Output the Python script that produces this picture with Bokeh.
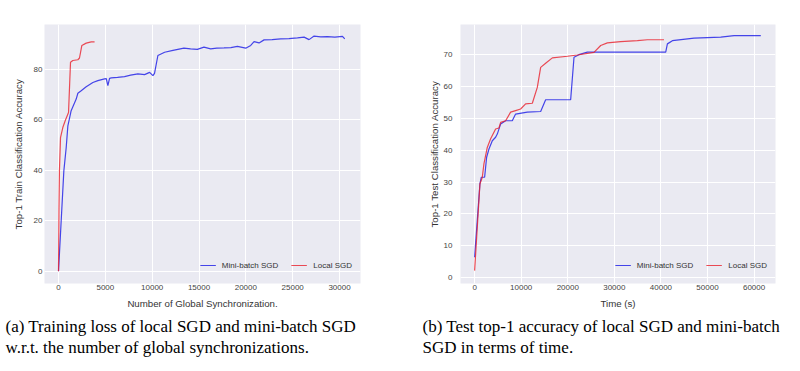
from bokeh.plotting import figure
from bokeh.layouts import row
from bokeh.models import Legend, LegendItem, Title, FixedTicker, Range1d
from bokeh.embed import file_html
from bokeh.resources import INLINE

# ---- data ----
train_mb_x = [0, 285, 570, 820, 1000, 1350, 1890, 2066, 2420, 2956, 3670, 4200, 4916, 5100, 5270,
              5450, 5630, 6300, 7050, 7700, 8475, 9190, 9725, 10080, 10250, 10610, 11330, 12220,
              13390, 14100, 14820, 15530, 16244, 16900, 17670, 18400, 19100, 19985, 20520, 20875,
              21410, 21945, 22800, 23725, 24600, 25510, 26220, 26750, 27285, 28000, 28710, 29500,
              30316, 30560]
train_mb_y = [0, 19.9, 39.8, 49.0, 57.7, 63.7, 68.3, 70.6, 71.6, 73.2, 74.9, 75.6, 76.3, 76.4, 73.6,
              76.5, 76.7, 76.9, 77.2, 77.8, 78.3, 78.0, 78.9, 77.6, 78.5, 85.6, 86.9, 87.6,
              88.5, 88.2, 88.0, 88.9, 88.2, 88.5, 88.6, 88.7, 89.2, 88.5, 89.6, 91.1,
              90.6, 91.8, 91.9, 92.2, 92.3, 92.6, 92.9, 91.9, 93.3, 93.0, 93.1, 92.9,
              93.2, 92.2]
train_local_x = [0, 50, 100, 214, 460, 714, 930, 1070, 1282, 1530, 2066, 2240, 2494, 2956, 3490, 3850]
train_local_y = [0, 25.0, 39.8, 53.0, 57.0, 59.7, 61.7, 63.0, 82.9, 83.6, 83.9, 84.6, 89.6, 90.5, 91.0, 91.0]

test_mb_x = [0, 570, 1140, 1430, 2150, 2580, 3080, 3800, 4510, 4870, 5590, 6660, 8090, 8800, 11310,
             14180, 15250, 20620, 21340, 22400, 24200, 41030, 41390, 42460, 47110, 52850, 55700, 61440]
test_mb_y = [6.3, 17.9, 29.4, 31.5, 31.5, 37.8, 40.4, 43.0, 44.1, 45.1, 48.3, 49.3, 49.3, 51.4, 52.0,
             52.2, 55.9, 55.9, 69.3, 70.1, 70.9, 70.9, 73.5, 74.5, 75.3, 75.6, 76.1, 76.1]
test_local_x = [0, 570, 1140, 1650, 2000, 2720, 3440, 4510, 5230, 5590, 6660, 7730, 8800, 9880, 10950,
                12390, 13460, 14180, 15250, 16690, 19910, 22060, 25630, 27070, 28500, 31360, 34950,
                37100, 40670]
test_local_y = [2.1, 15.7, 29.4, 31.5, 35.7, 40.9, 43.6, 46.7, 47.0, 48.8, 49.3, 52.0, 52.5, 53.0, 54.6,
                54.8, 59.8, 66.1, 67.4, 69.1, 69.6, 70.0, 70.8, 73.0, 73.8, 74.2, 74.5,
                74.8, 74.8]

train_xticks = [0, 5000, 10000, 15000, 20000, 25000, 30000]
train_yticks = [0, 20, 40, 60, 80]
test_xticks = [0, 10000, 20000, 30000, 40000, 50000, 60000]
test_yticks = [0, 10, 20, 30, 40, 50, 60, 70]

series_names = ["Mini-batch SGD", "Local SGD"]
captions = ["(a) Training loss of local SGD and mini-batch SGD\nw.r.t. the number of global synchronizations.",
            "(b) Test top-1 accuracy of local SGD and mini-batch\nSGD in terms of time."]

BLUE = "#1a1ae6"
RED = "#e8202c"
SANS = "Liberation Sans"


def make_fig(width, left, right, xr, yr, xticks, yticks, xlabel, ylabel, ystand, ylstand,
             caption, cap_off, mb, loc):
    p = figure(width=width, height=368, x_range=Range1d(*xr), y_range=Range1d(*yr),
               output_backend="svg", toolbar_location=None, title=None,
               min_border_left=left, min_border_right=right, min_border_top=24,
               min_border_bottom=85)
    p.background_fill_color = "#EAEAF2"
    p.border_fill_color = "white"
    p.outline_line_color = None
    for ax in (p.xaxis[0], p.yaxis[0]):
        ax.axis_line_color = None
        ax.major_tick_line_color = None
        ax.minor_tick_line_color = None
        ax.major_tick_out = 0
        ax.major_tick_in = 0
        ax.minor_tick_out = 0
        ax.minor_tick_in = 0
        ax.major_label_text_font = SANS
        ax.major_label_text_font_size = "8px"
        ax.major_label_text_color = "#444444"
        ax.axis_label_text_font = SANS
        ax.axis_label_text_font_size = "9.7px"
        ax.axis_label_text_font_style = "normal"
        ax.axis_label_text_color = "#333333"
    p.xaxis[0].ticker = FixedTicker(ticks=xticks)
    p.yaxis[0].ticker = FixedTicker(ticks=yticks)
    p.xaxis[0].axis_label = xlabel
    p.yaxis[0].axis_label = ylabel
    p.xaxis[0].major_label_standoff = 1
    p.xaxis[0].axis_label_standoff = 5
    p.yaxis[0].major_label_standoff = ystand
    p.yaxis[0].axis_label_standoff = ylstand
    p.grid.grid_line_color = "white"
    p.grid.grid_line_width = 1
    p.xgrid.ticker = FixedTicker(ticks=xticks)
    p.ygrid.ticker = FixedTicker(ticks=yticks)

    r1 = p.line(mb[0], mb[1], line_color=BLUE, line_alpha=0.8, line_width=1.2)
    r2 = p.line(loc[0], loc[1], line_color=RED, line_alpha=0.8, line_width=1.2)
    leg = Legend(items=[LegendItem(label=series_names[0], renderers=[r1]),
                        LegendItem(label=series_names[1], renderers=[r2])],
                 location="bottom_right", orientation="horizontal")
    leg.background_fill_alpha = 0
    leg.border_line_color = None
    leg.label_text_font = SANS
    leg.label_text_font_size = "8px"
    leg.label_text_color = "#333333"
    leg.glyph_width = 16
    leg.label_standoff = 6
    leg.spacing = 13
    leg.margin = 8
    leg.padding = 0
    p.add_layout(leg)

    cap = Title(text=caption, align="left", offset=cap_off, text_font="Liberation Serif",
                text_font_size="17px", text_font_style="normal", text_color="black",
                text_line_height=1.12, standoff=8)
    p.add_layout(cap, "below")
    return p


p1 = make_fig(410, 44, 50, (-1495, 32240), (-4.9, 97.9), train_xticks, train_yticks,
              "Number of Global Synchronization.", "Top-1 Train Classification Accuracy", 2, 7,
              captions[0], -39, (train_mb_x, train_mb_y), (train_local_x, train_local_y))
p2 = make_fig(387, 50, 22, (-3030, 64600), (-1.95, 79.6), test_xticks, test_yticks,
              "Time (s)", "Top-1 Test Classification Accuracy", 8, 1,
              captions[1], -38, (test_mb_x, test_mb_y), (test_local_x, test_local_y))

layout = row(p1, p2)
open("out.html", "w").write(file_html(layout, INLINE))
